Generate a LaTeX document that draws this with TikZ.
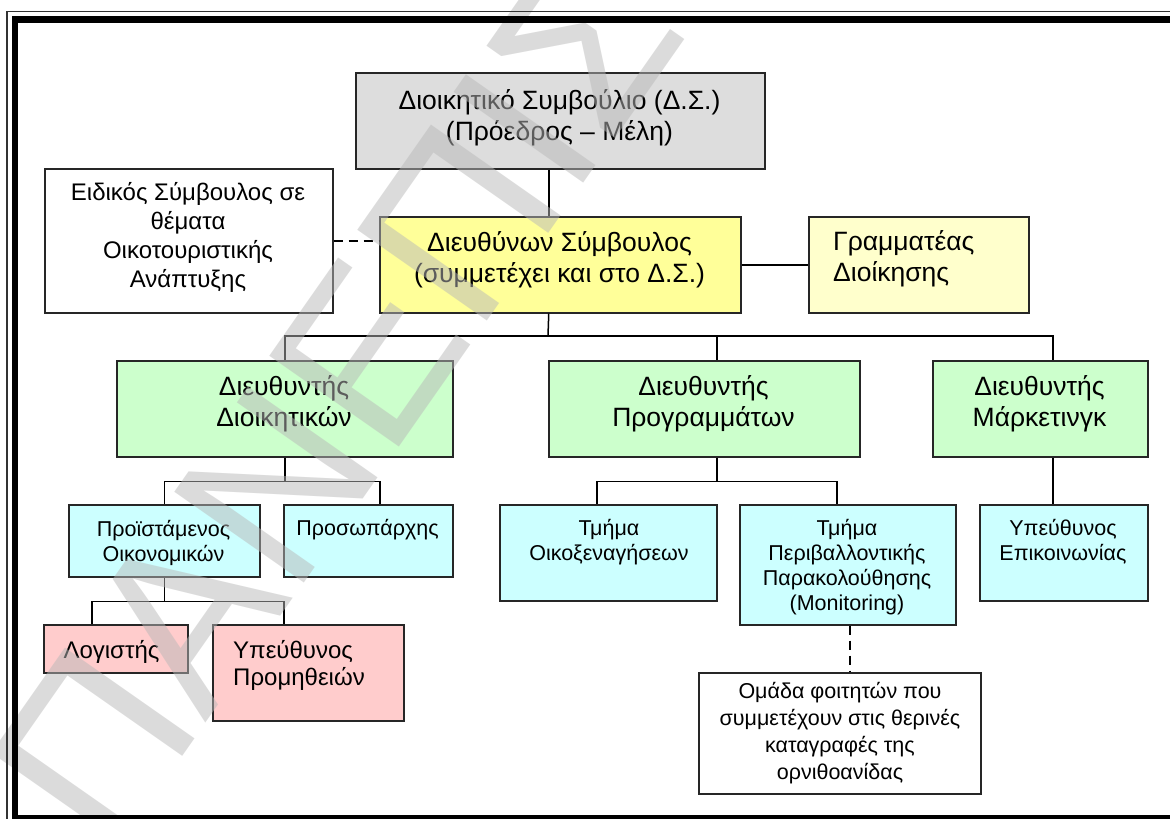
\documentclass[tikz,border=0pt]{standalone}
\usepackage{fontspec}
\setmainfont{Liberation Sans}
\newfontfamily\wmfont{Liberation Sans}

\definecolor{boardgray}{HTML}{DDDDDD}
\definecolor{ceoyellow}{HTML}{FFFF99}
\definecolor{secyellow}{HTML}{FFFFCC}
\definecolor{dirgreen}{HTML}{CCFFCC}
\definecolor{deptcyan}{HTML}{CCFFFF}
\definecolor{staffpink}{HTML}{FFCCCC}
\definecolor{wmgray}{gray}{0.72}

\tikzset{
  box/.style={draw=black!85, line width=1.5pt, rectangle, inner sep=0pt, anchor=north west},
  conn/.style={draw=black, line width=1.5pt},
  lbl/.style={align=center, inner sep=0pt, text=black},
  bigtxt/.style={font=\fontsize{26.5}{31}\selectfont},
  advtxt/.style={font=\fontsize{24}{29}\selectfont},
  smalltxt/.style={font=\fontsize{21.5}{25}\selectfont},
  studtxt/.style={font=\fontsize{21.5}{27}\selectfont},
  pinktxt/.style={font=\fontsize{24}{27}\selectfont},
}

\begin{document}
\begin{tikzpicture}[x=1pt,y=-1pt]
\useasboundingbox (0,0) rectangle (1170,819);

% ---- boxes ----
\node[box, fill=boardgray, minimum width=409pt, minimum height=96pt] (board) at (355,72) {};
\node[box, fill=ceoyellow, minimum width=361pt, minimum height=96pt] (ceo) at (379,216) {};
\node[box, fill=white, minimum width=288pt, minimum height=144pt] (adv) at (44,168) {};
\node[box, fill=secyellow, minimum width=220pt, minimum height=96pt] (sec) at (808,216) {};
\node[box, fill=dirgreen, minimum width=336pt, minimum height=96pt] (admin) at (116,360) {};
\node[box, fill=dirgreen, minimum width=311pt, minimum height=96pt] (prog) at (548,360) {};
\node[box, fill=dirgreen, minimum width=215pt, minimum height=96pt] (mkt) at (932,360) {};
\node[box, fill=deptcyan, minimum width=191pt, minimum height=72pt] (fin) at (68,504) {};
\node[box, fill=deptcyan, minimum width=169pt, minimum height=72pt] (pers) at (283,504) {};
\node[box, fill=deptcyan, minimum width=217pt, minimum height=96pt] (tour) at (499,504) {};
\node[box, fill=deptcyan, minimum width=216pt, minimum height=120pt] (mon) at (739,504) {};
\node[box, fill=deptcyan, minimum width=168pt, minimum height=96pt] (comm) at (979,504) {};
\node[box, fill=staffpink, minimum width=144pt, minimum height=48pt] (acc) at (43,624) {};
\node[box, fill=staffpink, minimum width=191pt, minimum height=96pt] (proc) at (212,624) {};
\node[box, fill=white, minimum width=282pt, minimum height=121pt] (stud) at (698,672) {};

% ---- labels ----
\node[lbl,bigtxt] (boardt) at (559.5,118) {Διοικητικό Συμβούλιο (Δ.Σ.)\\(Πρόεδρος – Μέλη)};
\node[lbl,bigtxt] (ceot) at (559.5,260) {Διευθύνων Σύμβουλος\\(συμμετέχει και στο Δ.Σ.)};
\node[lbl,advtxt] (advt) at (188,237) {Ειδικός Σύμβουλος σε\\θέματα\\Οικοτουριστικής\\Ανάπτυξης};
\node[lbl,bigtxt,align=left,anchor=west] (sect) at (833,259) {Γραμματέας\\Διοίκησης};
\node[lbl,bigtxt] (admint) at (284,404) {Διευθυντής\\Διοικητικών};
\node[lbl,bigtxt] (progt) at (703.5,404) {Διευθυντής\\Προγραμμάτων};
\node[lbl,bigtxt] (mktt) at (1039.5,404) {Διευθυντής\\Μάρκετινγκ};
\node[lbl,smalltxt] (fint) at (163.5,543) {Προϊστάμενος\\Οικονομικών};
\node[lbl,smalltxt] (perst) at (367.5,530) {Προσωπάρχης};
\node[lbl,smalltxt] (tourt) at (609,542) {Τμήμα\\Οικοξεναγήσεων};
\node[lbl,smalltxt] (mont) at (847,567) {Τμήμα\\Περιβαλλοντικής\\Παρακολούθησης\\(Monitoring)};
\node[lbl,smalltxt] (commt) at (1063,542) {Υπεύθυνος\\Επικοινωνίας};
\node[lbl,pinktxt] (acct) at (111.5,652) {Λογιστής};
\node[lbl,pinktxt,align=left,anchor=west] (proct) at (233,665) {Υπεύθυνος\\Προμηθειών};
\node[lbl,studtxt] (studt) at (840,733) {Ομάδα φοιτητών που\\συμμετέχουν στις θερινές\\καταγραφές της\\ορνιθοανίδας};

% ---- connectors ----
\coordinate (bus) at (548,336);
\draw[conn] ([xshift=-11.5pt]board.south) -- ([xshift=-11.5pt]ceo.north);
\draw[conn] ([xshift=-11.5pt]ceo.south) -- (bus);
\draw[conn] (admin.north) |- (bus) -| ([xshift=12.5pt]mkt.north);
\draw[conn] ([xshift=12.5pt]prog.north) -- ([xshift=12.5pt]prog.north |- bus);
\draw[conn] (ceo.east) -- (sec.west);
\draw[conn, dash pattern=on 9pt off 6pt] (adv.east) -- (adv.east -| ceo.west);

\draw[conn] (admin.south) -- ++(0,24) coordinate (abus);
\draw[conn] (fin.north) |- (abus) -| ([xshift=11.5pt]pers.north);

\draw[conn] (fin.south) -- ++(0,24) coordinate (fbus);
\draw[conn] ([xshift=-24pt]acc.north) |- (fbus) -| ([xshift=-24.5pt]proc.north);

\draw[conn] ([xshift=12.5pt]prog.south) -- ++(0,24) coordinate (pbus);
\draw[conn] ([xshift=-11.5pt]tour.north) |- (pbus) -| ([xshift=-11pt]mon.north);

\draw[conn] ([xshift=12.5pt]mkt.south) -- ([xshift=12.5pt]mkt.south |- comm.north);
\draw[conn, dash pattern=on 9pt off 6pt] ([xshift=2pt]mon.south) -- ([xshift=2pt]mon.south |- stud.north);

% ---- watermark ----
\node[rotate=55, anchor=base west, inner sep=0pt, text=wmgray, text opacity=0.5,
      font=\wmfont\fontsize{230}{230}\selectfont] (wm) at (110,860) {ΠΑΝΕΠΙΣΤΗΜΙΟ};

% ---- page frame ----
\draw[line width=1.5pt, black!80] (7,819) -- (7,11.5) -- (1170,11.5);
\draw[line width=6.5pt] (15,819) -- (15,19.5) -- (1170,19.5);
\draw[line width=4pt] (15,817) -- (1170,817);
\end{tikzpicture}
\end{document}
